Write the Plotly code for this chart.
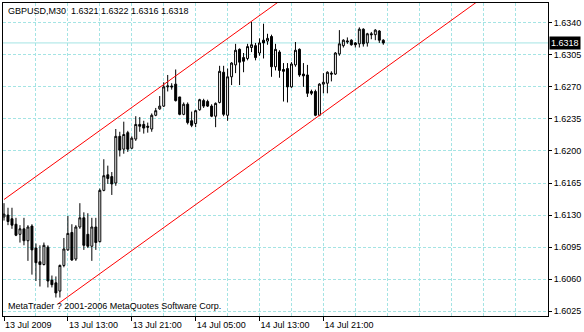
import plotly.graph_objects as go
import pandas as pd

# GBPUSD M30 candles (13 Jul 2009 05:00 onward)
opens = [1.6128, 1.6130, 1.6126, 1.6120, 1.6109, 1.6115, 1.6102, 1.6118, 1.6094, 1.6079,
         1.6076, 1.6095, 1.6059, 1.6056, 1.6047, 1.6075, 1.6092, 1.6111, 1.6082, 1.6117,
         1.6127, 1.6109, 1.6096, 1.6117, 1.6101, 1.6157, 1.6174, 1.6172, 1.6165, 1.6216,
         1.6202, 1.6220, 1.6203, 1.6213, 1.6229, 1.6229, 1.6227, 1.6224, 1.6239, 1.6246,
         1.6249, 1.6270, 1.6271, 1.6273, 1.6259, 1.6240, 1.6251, 1.6233, 1.6230, 1.6245,
         1.6255, 1.6254, 1.6249, 1.6238, 1.6253, 1.6286, 1.6239, 1.6281, 1.6294, 1.6311,
         1.6302, 1.6301, 1.6313, 1.6315, 1.6307, 1.6321, 1.6320, 1.6325, 1.6292, 1.6308,
         1.6289, 1.6290, 1.6270, 1.6294, 1.6311, 1.6284, 1.6283, 1.6265, 1.6265, 1.6239,
         1.6273, 1.6274, 1.6285, 1.6284, 1.6306, 1.6315, 1.6319, 1.6321, 1.6318, 1.6317,
         1.6333, 1.6318, 1.6328, 1.6327, 1.6331, 1.6321]
highs = [1.6143, 1.6138, 1.6138, 1.6127, 1.6119, 1.6127, 1.6119, 1.6120, 1.6099, 1.6097,
         1.6100, 1.6097, 1.6064, 1.6063, 1.6076, 1.6105, 1.6129, 1.6120, 1.6119, 1.6143,
         1.6133, 1.6132, 1.6127, 1.6127, 1.6159, 1.6191, 1.6184, 1.6177, 1.6224, 1.6221,
         1.6232, 1.6222, 1.6216, 1.6238, 1.6237, 1.6233, 1.6231, 1.6241, 1.6247, 1.6260,
         1.6275, 1.6283, 1.6274, 1.6289, 1.6259, 1.6253, 1.6253, 1.6243, 1.6245, 1.6257,
         1.6257, 1.6256, 1.6251, 1.6253, 1.6293, 1.6293, 1.6290, 1.6297, 1.6317, 1.6312,
         1.6307, 1.6317, 1.6341, 1.6318, 1.6323, 1.6339, 1.6328, 1.6327, 1.6317, 1.6310,
         1.6296, 1.6296, 1.6297, 1.6319, 1.6312, 1.6296, 1.6294, 1.6267, 1.6267, 1.6274,
         1.6285, 1.6287, 1.6287, 1.6308, 1.6332, 1.6322, 1.6324, 1.6322, 1.6319, 1.6335,
         1.6334, 1.6329, 1.6330, 1.6333, 1.6332, 1.6322]
lows = [1.6124, 1.6119, 1.6115, 1.6107, 1.6100, 1.6097, 1.6080, 1.6065, 1.6058, 1.6052,
        1.6075, 1.6051, 1.6051, 1.6040, 1.6040, 1.6073, 1.6091, 1.6080, 1.6080, 1.6115,
        1.6092, 1.6094, 1.6080, 1.6092, 1.6100, 1.6156, 1.6164, 1.6152, 1.6162, 1.6194,
        1.6197, 1.6199, 1.6202, 1.6211, 1.6221, 1.6219, 1.6220, 1.6221, 1.6238, 1.6245,
        1.6248, 1.6265, 1.6267, 1.6254, 1.6239, 1.6239, 1.6229, 1.6226, 1.6226, 1.6244,
        1.6247, 1.6248, 1.6237, 1.6226, 1.6252, 1.6238, 1.6233, 1.6272, 1.6285, 1.6272,
        1.6286, 1.6299, 1.6308, 1.6299, 1.6304, 1.6301, 1.6316, 1.6281, 1.6288, 1.6280,
        1.6254, 1.6253, 1.6269, 1.6292, 1.6281, 1.6270, 1.6259, 1.6261, 1.6238, 1.6238,
        1.6263, 1.6263, 1.6276, 1.6283, 1.6304, 1.6313, 1.6317, 1.6315, 1.6313, 1.6313,
        1.6314, 1.6314, 1.6322, 1.6321, 1.6318, 1.6316]
closes = [1.6131, 1.6123, 1.6119, 1.6108, 1.6115, 1.6102, 1.6117, 1.6092, 1.6078, 1.6076,
          1.6097, 1.6058, 1.6054, 1.6045, 1.6075, 1.6093, 1.6110, 1.6081, 1.6117, 1.6127,
          1.6097, 1.6096, 1.6117, 1.6100, 1.6157, 1.6173, 1.6170, 1.6164, 1.6216, 1.6201,
          1.6218, 1.6202, 1.6214, 1.6229, 1.6227, 1.6225, 1.6226, 1.6239, 1.6244, 1.6249,
          1.6270, 1.6271, 1.6270, 1.6255, 1.6240, 1.6251, 1.6231, 1.6228, 1.6244, 1.6256,
          1.6249, 1.6249, 1.6238, 1.6252, 1.6287, 1.6240, 1.6281, 1.6296, 1.6310, 1.6297,
          1.6298, 1.6314, 1.6316, 1.6302, 1.6318, 1.6318, 1.6323, 1.6292, 1.6311, 1.6288,
          1.6287, 1.6270, 1.6295, 1.6310, 1.6283, 1.6282, 1.6263, 1.6263, 1.6239, 1.6273,
          1.6275, 1.6286, 1.6284, 1.6307, 1.6317, 1.6321, 1.6320, 1.6316, 1.6316, 1.6333,
          1.6317, 1.6328, 1.6327, 1.6332, 1.6321, 1.6318]

first_bar = "2009-07-13 05:00"
times = pd.date_range(first_bar, periods=len(opens), freq="30min")

tick_times = ["2009-07-13 05:00", "2009-07-13 13:00", "2009-07-13 21:00",
              "2009-07-14 05:00", "2009-07-14 13:00", "2009-07-14 21:00"]
tick_text = ["13 Jul 2009", "13 Jul 13:00", "13 Jul 21:00",
             "14 Jul 05:00", "14 Jul 13:00", "14 Jul 21:00"]
price_ticks = [1.6025, 1.6060, 1.6095, 1.6130, 1.6165, 1.6200, 1.6235, 1.6270, 1.6305, 1.6340]
price_text = ["1.6025", "1.6060", "1.6095", "1.6130", "1.6165", "1.6200", "1.6235", "1.6270", "1.6305", "1.6340"]

# Trend channel (two parallel rays)
upper_x = ["2009-07-13 05:00", "2009-07-16 01:00"]
upper_y = [1.6147, 1.6574]
lower_x = ["2009-07-13 11:45", "2009-07-16 01:00"]
lower_y = [1.6033, 1.6418]

x_range = ["2009-07-13 04:52:30", "2009-07-16 01:07:30"]
y_range = [1.60198, 1.63616]

grid_color = "#a4e4e4"
font_family = "Liberation Sans, Arial, sans-serif"

fig = go.Figure()
fig.add_trace(go.Candlestick(
    x=times, open=opens, high=highs, low=lows, close=closes,
    increasing=dict(line=dict(color="black", width=1), fillcolor="white"),
    decreasing=dict(line=dict(color="black", width=1), fillcolor="black"),
    whiskerwidth=0, hoverinfo="skip",
))
fig.add_trace(go.Scatter(x=upper_x, y=upper_y, mode="lines",
                         line=dict(color="#ff0000", width=1), hoverinfo="skip"))
fig.add_trace(go.Scatter(x=lower_x, y=lower_y, mode="lines",
                         line=dict(color="#ff0000", width=1), hoverinfo="skip"))

# Bid line
fig.add_shape(type="line", xref="paper", x0=0, x1=1, yref="y", y0=closes[-1], y1=closes[-1],
              line=dict(color=grid_color, width=1), layer="below")

fig.add_annotation(xref="paper", yref="paper", x=0, y=1, xanchor="left", yanchor="top",
                   xshift=3, yshift=-1, showarrow=False,
                   text=f"GBPUSD,M30  {opens[-1]:.4f} {highs[-1]:.4f} {lows[-1]:.4f} {closes[-1]:.4f}",
                   font=dict(family=font_family, size=9, color="black"))
fig.add_annotation(xref="paper", yref="paper", x=0, y=0, xanchor="left", yanchor="bottom",
                   xshift=3, yshift=3, showarrow=False,
                   text="MetaTrader ? 2001-2006 MetaQuotes Software Corp.",
                   font=dict(family=font_family, size=9, color="black"))
fig.add_annotation(xref="paper", yref="y", x=1, y=closes[-1], xanchor="left", yanchor="middle",
                   xshift=1, showarrow=False, text=f"{closes[-1]:.4f}",
                   bgcolor="black", borderpad=1,
                   font=dict(family=font_family, size=9, color="white"))

fig.update_layout(
    width=584, height=332,
    margin=dict(l=2, r=36, t=2, b=13),
    paper_bgcolor="white", plot_bgcolor="white",
    showlegend=False,
    xaxis=dict(
        type="date", range=x_range, rangeslider=dict(visible=False),
        tickmode="array", tickvals=tick_times, ticktext=tick_text,
        ticks="outside", ticklen=4, tickcolor="black", tickwidth=1,
        ticklabelposition="outside right",
        tickfont=dict(family=font_family, size=9, color="black"),
        showline=True, mirror=True, linecolor="black", linewidth=1,
        showgrid=True, gridcolor=grid_color, griddash="3px,2px", gridwidth=1,
        minor=dict(tick0=first_bar, dtick=4 * 3600 * 1000, showgrid=True,
                   gridcolor=grid_color, griddash="3px,2px", gridwidth=1, ticks=""),
        zeroline=False, fixedrange=True,
    ),
    yaxis=dict(
        side="right", range=y_range,
        tickmode="array", tickvals=price_ticks, ticktext=price_text,
        ticks="outside", ticklen=3, tickcolor="black", tickwidth=1,
        tickfont=dict(family=font_family, size=9, color="black"),
        showline=True, mirror=True, linecolor="black", linewidth=1,
        showgrid=True, gridcolor=grid_color, griddash="3px,2px", gridwidth=1,
        zeroline=False, fixedrange=True,
    ),
)

fig.write_html("out.html")
